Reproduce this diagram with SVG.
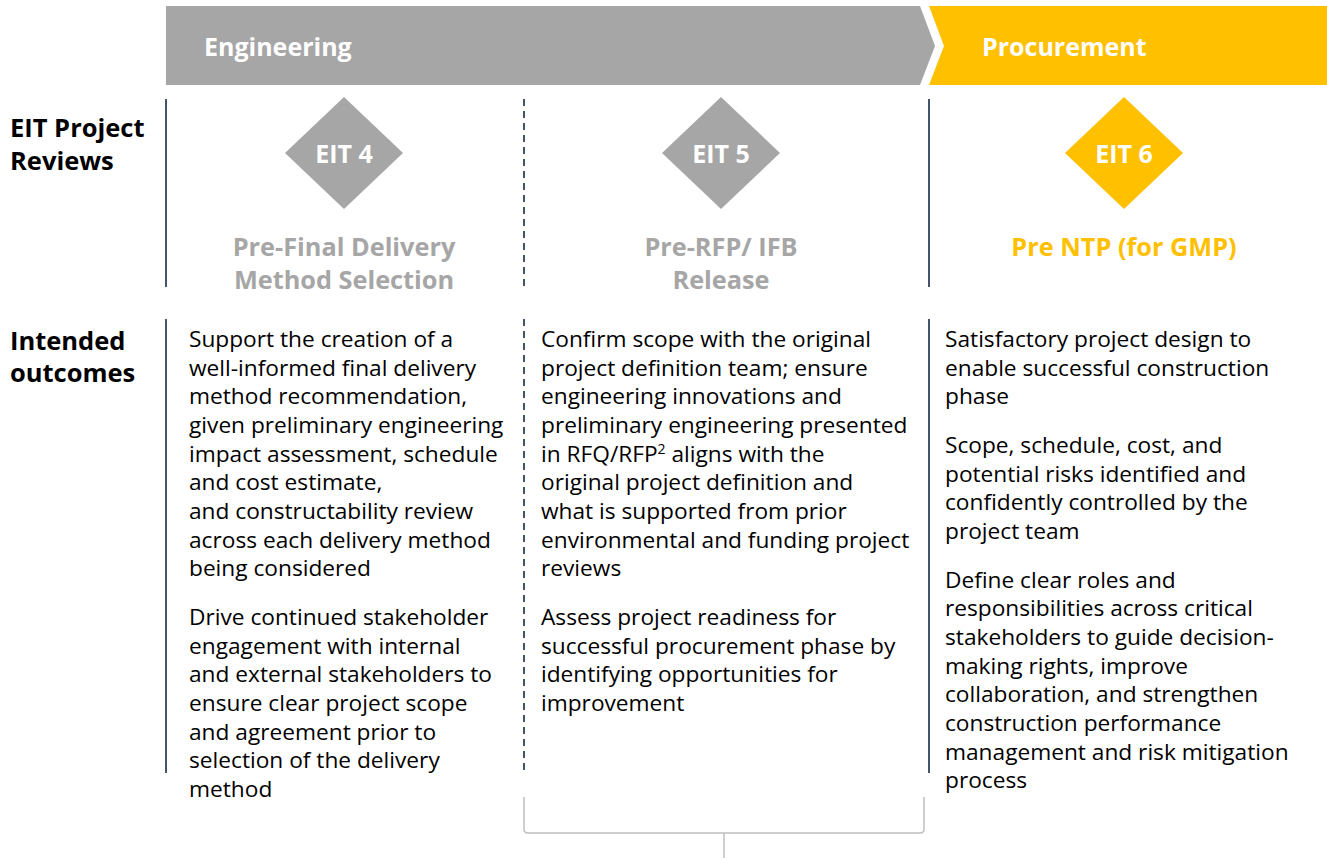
<svg xmlns="http://www.w3.org/2000/svg" width="1327" height="858" viewBox="0 0 1327 858">
<style>
  .hdr{font-family:"Open Sans","Liberation Sans",sans-serif;font-weight:700;font-size:25px;fill:#fff}
  .row{font-family:"Open Sans","Liberation Sans",sans-serif;font-weight:700;font-size:25.5px;fill:#000}
  .dtxt{font-family:"Open Sans","Liberation Sans",sans-serif;font-weight:700;font-size:25px;fill:#fff;text-anchor:middle}
  .ttl{font-family:"Open Sans","Liberation Sans",sans-serif;font-weight:700;font-size:25.3px;text-anchor:middle}
  .body{font-family:"Open Sans","Liberation Sans",sans-serif;font-size:22.7px;fill:#000}
  .gray{fill:#A6A6A6}
  .yel{fill:#FFC000}
  .sol{stroke:#44546A;stroke-width:2;fill:none}
  .dash{stroke:#44546A;stroke-width:2;fill:none;stroke-dasharray:7 5}
  .brk{stroke:#BFBFBF;stroke-width:1.5;fill:none}
</style>
<rect width="1327" height="858" fill="#fff"/>

<g id="phase-engineering">
  <polygon class="gray" points="166,6 920,6 935,46 920,85 166,85"/>
  <text class="hdr" x="204" y="56">Engineering</text>
</g>
<g id="phase-procurement">
  <polygon class="yel" points="929,6 1327,6 1327,85 929,85 944,46"/>
  <text class="hdr" x="982" y="56">Procurement</text>
</g>

<g id="row-labels">
  <text class="row" x="10" y="137">EIT Project</text>
  <text class="row" x="10" y="170">Reviews</text>
  <text class="row" x="10" y="350">Intended</text>
  <text class="row" x="10" y="382">outcomes</text>
</g>

<g id="connectors">
  <line class="sol" x1="166" y1="99" x2="166" y2="287"/>
  <line class="dash" x1="524" y1="99" x2="524" y2="287"/>
  <line class="sol" x1="929" y1="99" x2="929" y2="287"/>
  <line class="sol" x1="166" y1="319" x2="166" y2="773"/>
  <line class="dash" x1="524" y1="319" x2="524" y2="774"/>
  <line class="sol" x1="929" y1="319" x2="929" y2="773"/>
  <path class="brk" d="M524,797 L524,829 Q524,833 528,833 L920,833 Q924,833 924,829 L924,797"/>
  <line class="brk" x1="724" y1="833" x2="724" y2="858"/>
</g>

<g id="eit4">
  <polygon class="gray" points="344,97 403,153 344,209 285,153"/>
  <text class="dtxt" x="344" y="163">EIT 4</text>
  <text class="ttl gray" x="344" y="256">Pre-Final Delivery</text>
  <text class="ttl gray" x="344" y="289">Method Selection</text>
</g>
<g id="eit5">
  <polygon class="gray" points="721,97 780,153 721,209 662,153"/>
  <text class="dtxt" x="721" y="163">EIT 5</text>
  <text class="ttl gray" x="721" y="256">Pre-RFP/ IFB</text>
  <text class="ttl gray" x="721" y="289">Release</text>
</g>
<g id="eit6">
  <polygon class="yel" points="1124,97 1183,153 1124,209 1065,153"/>
  <text class="dtxt" x="1124" y="163">EIT 6</text>
  <text class="ttl yel" x="1124" y="256">Pre NTP (for GMP)</text>
</g>

<g id="outcomes-eit4">
  <text class="body" x="189" y="347">Support the creation of a</text>
  <text class="body" x="189" y="376">well-informed final delivery</text>
  <text class="body" x="189" y="404">method recommendation,</text>
  <text class="body" x="189" y="433">given preliminary engineering</text>
  <text class="body" x="189" y="462">impact assessment, schedule</text>
  <text class="body" x="189" y="490">and cost estimate,</text>
  <text class="body" x="189" y="519">and constructability review</text>
  <text class="body" x="189" y="548">across each delivery method</text>
  <text class="body" x="189" y="576">being considered</text>
  <text class="body" x="189" y="625">Drive continued stakeholder</text>
  <text class="body" x="189" y="654">engagement with internal</text>
  <text class="body" x="189" y="682">and external stakeholders to</text>
  <text class="body" x="189" y="711">ensure clear project scope</text>
  <text class="body" x="189" y="740">and agreement prior to</text>
  <text class="body" x="189" y="768">selection of the delivery</text>
  <text class="body" x="189" y="797">method</text>
</g>

<g id="outcomes-eit5">
  <text class="body" x="541" y="347">Confirm scope with the original</text>
  <text class="body" x="541" y="376">project definition team; ensure</text>
  <text class="body" x="541" y="404">engineering innovations and</text>
  <text class="body" x="541" y="433">preliminary engineering presented</text>
  <text class="body" x="541" y="462">in RFQ/RFP<tspan font-size="14" dy="-8">2</tspan><tspan dy="8"> aligns with the</tspan></text>
  <text class="body" x="541" y="490">original project definition and</text>
  <text class="body" x="541" y="519">what is supported from prior</text>
  <text class="body" x="541" y="548">environmental and funding project</text>
  <text class="body" x="541" y="576">reviews</text>
  <text class="body" x="541" y="625">Assess project readiness for</text>
  <text class="body" x="541" y="654">successful procurement phase by</text>
  <text class="body" x="541" y="682">identifying opportunities for</text>
  <text class="body" x="541" y="711">improvement</text>
</g>

<g id="outcomes-eit6">
  <text class="body" x="945" y="347">Satisfactory project design to</text>
  <text class="body" x="945" y="376">enable successful construction</text>
  <text class="body" x="945" y="404">phase</text>
  <text class="body" x="945" y="453">Scope, schedule, cost, and</text>
  <text class="body" x="945" y="482">potential risks identified and</text>
  <text class="body" x="945" y="510">confidently controlled by the</text>
  <text class="body" x="945" y="539">project team</text>
  <text class="body" x="945" y="588">Define clear roles and</text>
  <text class="body" x="945" y="616">responsibilities across critical</text>
  <text class="body" x="945" y="645">stakeholders to guide decision-</text>
  <text class="body" x="945" y="674">making rights, improve</text>
  <text class="body" x="945" y="702">collaboration, and strengthen</text>
  <text class="body" x="945" y="731">construction performance</text>
  <text class="body" x="945" y="760">management and risk mitigation</text>
  <text class="body" x="945" y="788">process</text>
</g>
</svg>
